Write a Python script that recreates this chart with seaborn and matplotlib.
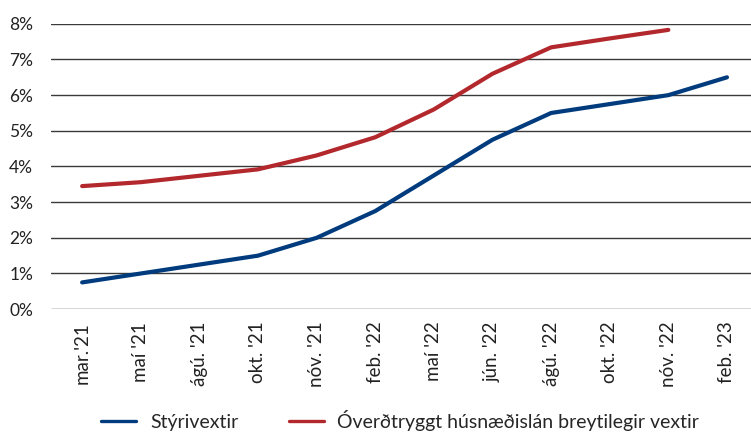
import numpy as np
import pandas as pd
import matplotlib.pyplot as plt
import seaborn as sns

# ============================================
# DATA
# ============================================
MONTHS = ["mar.'21", "maí '21", "ágú. '21", "okt. '21", "nóv. '21", "feb. '22",
          "maí '22", "jún. '22", "ágú. '22", "okt. '22", "nóv. '22", "feb. '23"]
STYRIVEXTIR = [0.75, 1.0, 1.25, 1.5, 2.0, 2.75, 3.75, 4.75, 5.5, 5.75, 6.0, 6.5]
HUSNAEDISLAN = [3.45, 3.56, 3.74, 3.92, 4.31, 4.82, 5.6, 6.6, 7.34, 7.59, 7.83, np.nan]
SERIES_NAMES = ["Stýrivextir", "Óverðtryggt húsnæðislán breytilegir vextir"]
COLORS = ["#003b7e", "#b3282d"]

df = pd.DataFrame({
    "pos": list(range(len(MONTHS))) * 2,
    "value": STYRIVEXTIR + HUSNAEDISLAN,
    "series": [SERIES_NAMES[0]] * len(MONTHS) + [SERIES_NAMES[1]] * len(MONTHS),
})

# ============================================
# PLOT
# ============================================
sns.set_style("white")
plt.rcParams["font.family"] = ["Lato", "DejaVu Sans"]

fig = plt.figure(figsize=(7.51, 4.33), dpi=100)
ax = fig.add_axes([0.068, 0.286, 0.932, 0.659])

sns.lineplot(data=df, x="pos", y="value", hue="series", palette=COLORS,
             linewidth=3.0, ax=ax, legend=False, sort=False)
for line in ax.lines:
    line.set_solid_capstyle("round")

ax.set_ylim(0, 8)
ax.set_xlim(-0.53, 11.41)
ax.set_yticks(range(0, 9))
ax.set_yticklabels([f"{v}%" for v in range(0, 9)], fontsize=12.5, color="#222222")
ax.set_xticks(range(len(MONTHS)))
ax.set_xticklabels(MONTHS, rotation=90, fontsize=13.5, color="#222222")
ax.tick_params(axis="y", length=0, pad=13)
ax.tick_params(axis="x", length=0, pad=9)
ax.set_xlabel("")
ax.set_ylabel("")
ax.grid(axis="y", color="#3a3a3a", linewidth=1.0)
ax.set_axisbelow(True)
for s in ax.spines.values():
    s.set_visible(False)

handles = [plt.Line2D([], [], color=c, linewidth=2.4) for c in COLORS]
fig.legend(handles, SERIES_NAMES, loc="center", bbox_to_anchor=(0.533, 0.03),
           ncol=2, frameon=False, fontsize=14, handlelength=1.8,
           columnspacing=2.6, handletextpad=0.7)

fig.savefig("out.png", dpi=100)
